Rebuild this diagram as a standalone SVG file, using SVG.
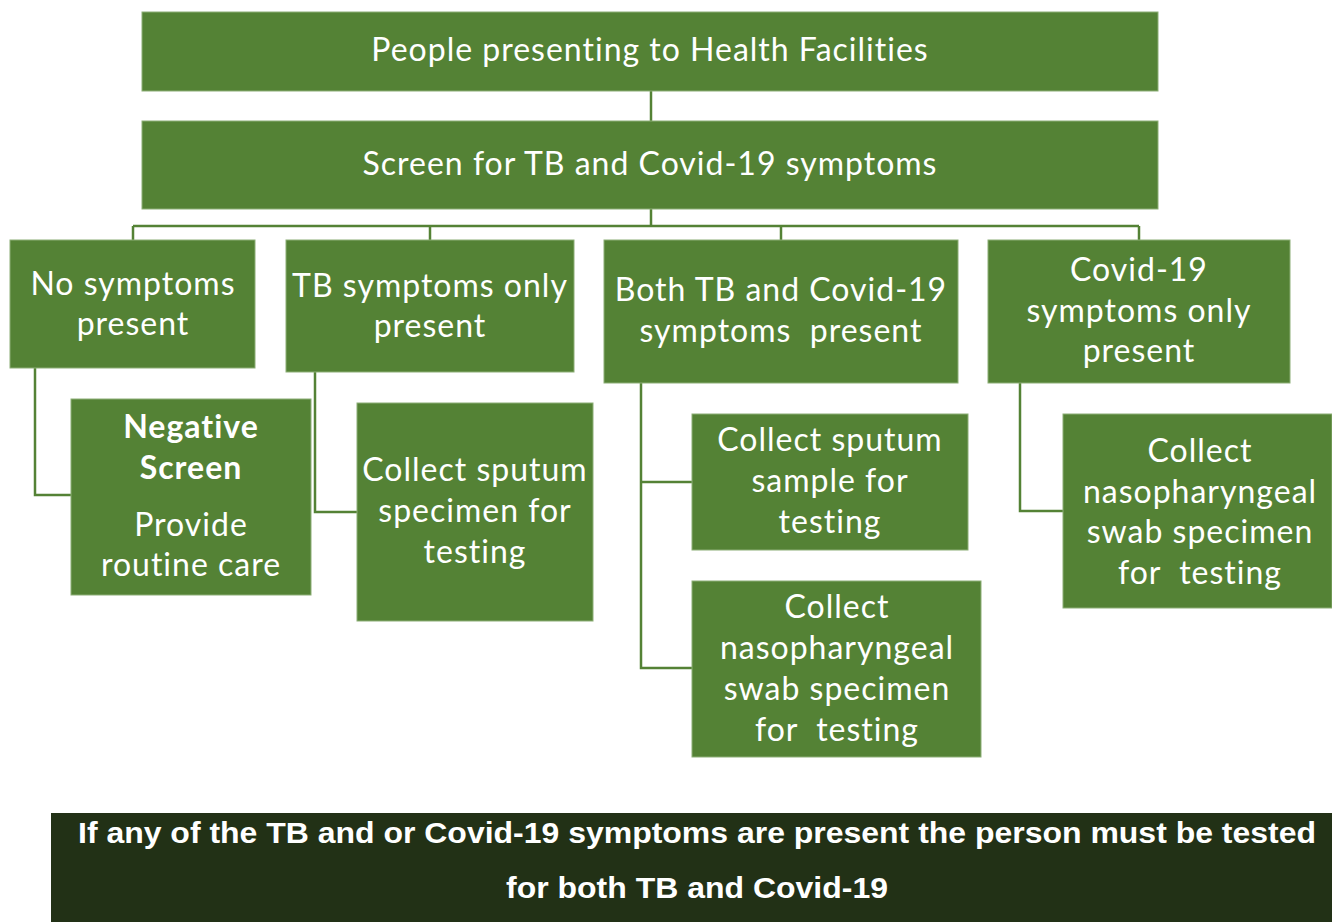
<svg xmlns="http://www.w3.org/2000/svg" width="1332" height="922" viewBox="0 0 1332 922">
<style>
.box{fill:#548235;stroke:#8cae76;stroke-width:1}
.t{font-family:Lato,"Open Sans",sans-serif;font-size:32px;letter-spacing:1px;fill:#ffffff;text-anchor:middle;white-space:pre}
.b{font-weight:bold}
.c{fill:none;stroke:#548235;stroke-width:2.5}
.bar{fill:#223116}
.bt{font-family:"Liberation Sans",Arial,sans-serif;font-weight:bold;font-size:29px;fill:#ffffff;text-anchor:middle}
</style>
<rect x="0" y="0" width="1332" height="922" fill="#ffffff"/>
<g id="connectors">
<path class="c" d="M651 91V121"/>
<path class="c" d="M651 209V226M133 226H1139M133 226V240M430 226V240M781 226V240M1139 226V240"/>
<path class="c" d="M35 368V495H71"/>
<path class="c" d="M315 372V512H357"/>
<path class="c" d="M641 383V668H692M641 482H692"/>
<path class="c" d="M1020 383V511H1063"/>
</g>
<g id="n1"><rect class="box" x="142" y="12" width="1016" height="79"/><text class="t" x="650" y="61">People presenting to Health Facilities</text></g>
<g id="n2"><rect class="box" x="142" y="121" width="1016" height="88"/><text class="t" x="650" y="175">Screen for TB and Covid-19 symptoms</text></g>
<g id="n3"><rect class="box" x="10" y="240" width="245" height="128"/><text class="t" x="133" y="295">No symptoms</text><text class="t" x="133" y="335">present</text></g>
<g id="n4"><rect class="box" x="286" y="240" width="288" height="132"/><text class="t" x="430" y="297">TB symptoms only</text><text class="t" x="430" y="337">present</text></g>
<g id="n5"><rect class="box" x="604" y="240" width="354" height="143"/><text class="t" x="781" y="301">Both TB and Covid-19</text><text class="t" x="781" y="342" xml:space="preserve">symptoms  present</text></g>
<g id="n6"><rect class="box" x="988" y="240" width="302" height="143"/><text class="t" x="1139" y="281">Covid-19</text><text class="t" x="1139" y="322">symptoms only</text><text class="t" x="1139" y="362">present</text></g>
<g id="n7"><rect class="box" x="71" y="399" width="240" height="196"/><text class="t b" x="191" y="438">Negative</text><text class="t b" x="191" y="479">Screen</text><text class="t" x="191" y="536">Provide</text><text class="t" x="191" y="576">routine care</text></g>
<g id="n8"><rect class="box" x="357" y="403" width="236" height="218"/><text class="t" x="475" y="481">Collect sputum</text><text class="t" x="475" y="522">specimen for</text><text class="t" x="475" y="563">testing</text></g>
<g id="n9"><rect class="box" x="692" y="414" width="276" height="136"/><text class="t" x="830" y="451">Collect sputum</text><text class="t" x="830" y="492">sample for</text><text class="t" x="830" y="533">testing</text></g>
<g id="n10"><rect class="box" x="692" y="581" width="289" height="176"/><text class="t" x="837" y="618">Collect</text><text class="t" x="837" y="659">nasopharyngeal</text><text class="t" x="837" y="700">swab specimen</text><text class="t" x="837" y="741" xml:space="preserve">for  testing</text></g>
<g id="n11"><rect class="box" x="1063" y="414" width="269" height="194"/><text class="t" x="1200" y="462">Collect</text><text class="t" x="1200" y="503">nasopharyngeal</text><text class="t" x="1200" y="543">swab specimen</text><text class="t" x="1200" y="584" xml:space="preserve">for  testing</text></g>
<g id="note"><rect class="bar" x="51" y="813" width="1281" height="109"/><text class="bt" x="697" y="843" textLength="1238" lengthAdjust="spacingAndGlyphs">If any of the TB and or Covid-19 symptoms are present the person must be tested</text><text class="bt" x="697" y="898" textLength="382" lengthAdjust="spacingAndGlyphs">for both TB and Covid-19</text></g>
</svg>
